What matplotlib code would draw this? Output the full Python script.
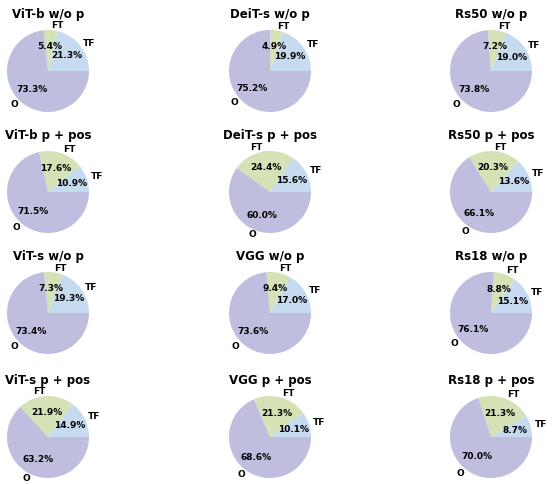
import matplotlib
matplotlib.use("Agg")
import matplotlib.pyplot as plt

titles = ["ViT-b w/o p", "DeiT-s w/o p", "Rs50 w/o p",
          "ViT-b p + pos", "DeiT-s p + pos", "Rs50 p + pos",
          "ViT-s w/o p", "VGG w/o p", "Rs18 w/o p",
          "ViT-s p + pos", "VGG p + pos", "Rs18 p + pos"]
labels = ["TF", "FT", "O"]
tf = [21.3, 19.9, 19.0, 10.9, 15.6, 13.6, 19.3, 17.0, 15.1, 14.9, 10.1, 8.7]
ft = [5.4, 4.9, 7.2, 17.6, 24.4, 20.3, 7.3, 9.4, 8.8, 21.9, 21.3, 21.3]
o = [73.3, 75.3, 73.8, 71.5, 60.0, 66.1, 73.4, 73.5, 76.1, 63.2, 68.6, 70.0]
colors = ["#c6dbef", "#d4e2b6", "#bfbedf"]

W, H = 554, 484
fig = plt.figure(figsize=(W/100, H/100), dpi=100)
cx = [48, 270, 491]
cy = [71, 192, 313, 437]
r = 41
size = 2*r/0.95*1.0
for i in range(12):
    row, col = divmod(i, 3)
    s = 100
    ax = fig.add_axes([(cx[col]-s/2)/W, 1-(cy[row]+s/2)/H, s/W, s/H])
    ax.pie([tf[i], ft[i], o[i]], labels=labels, colors=colors, autopct="%1.1f%%",
           pctdistance=0.6, labeldistance=1.1, startangle=0, radius=0.82,
           textprops=dict(fontsize=6.5, fontweight="bold"))
    ax.set_xlim(-1, 1); ax.set_ylim(-1, 1)
    ax.set_title(titles[i], fontsize=8.5, fontweight="bold", pad=-2)
fig.savefig("out.png", dpi=100)
